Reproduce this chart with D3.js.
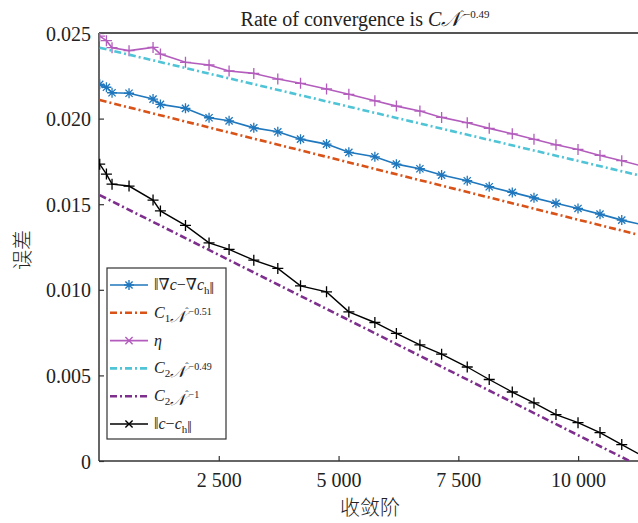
<!DOCTYPE html>
<html>
<head>
<meta charset="utf-8">
<script src="https://cdn.jsdelivr.net/npm/d3@7"></script>
<style>
  body { margin: 0; background: #fff; }
  svg { display: block; }
  text { font-family: "Liberation Serif", "DejaVu Serif", serif; fill: #222; }
</style>
</head>
<body>
<div id="chart"></div>
<script>
// Data
var orderN = [15, 155, 272, 627, 1128, 1282, 1805, 2297, 2715, 3231, 3732, 4206, 4749, 5215,
              5758, 6207, 6698, 7151, 7686, 8145, 8626, 9079, 9538, 9998, 10457, 10911, 11370];
var gradError = [0.02200, 0.02183, 0.02151, 0.02148, 0.02114, 0.02083, 0.02060, 0.02005, 0.01987,
                 0.01946, 0.01923, 0.01880, 0.01851, 0.01803, 0.01777, 0.01734, 0.01707, 0.01670,
                 0.01637, 0.01602, 0.01569, 0.01537, 0.01505, 0.01475, 0.01442, 0.01407, 0.01378];
var eta = [0.02482, 0.02455, 0.02414, 0.02397, 0.02416, 0.02377, 0.02329, 0.02313, 0.02278,
           0.02264, 0.02231, 0.02206, 0.02173, 0.02142, 0.02104, 0.02073, 0.02044, 0.02007,
           0.01976, 0.01943, 0.01911, 0.01879, 0.01847, 0.01820, 0.01785, 0.01754, 0.01720];
var cError = [0.01734, 0.01676, 0.01617, 0.01606, 0.01524, 0.01461, 0.01376, 0.01274, 0.01236,
              0.01173, 0.01125, 0.01023, 0.00988, 0.00871, 0.00809, 0.00745, 0.00678, 0.00624,
              0.00549, 0.00476, 0.00403, 0.00339, 0.00271, 0.00224, 0.00166, 0.00096, 0.00025];

// fitted reference lines (straight in the picture), endpoints only
var refN = [15, 11250];
var c1Fit = [0.02108, 0.01322];
var c2Fit = [0.02414, 0.01670];
var c2Inv = [0.01553, -0.00025];

var xTicks = [2500, 5000, 7500, 10000];
var xTickLabels = ["2 500", "5 000", "7 500", "10 000"];
var yTicks = [0, 0.005, 0.010, 0.015, 0.020, 0.025];
var yTickLabels = ["0", "0.005", "0.010", "0.015", "0.020", "0.025"];

var serif = "'Liberation Serif', 'DejaVu Serif', serif";
var W = 638, H = 523;
var plot = {left: 99, right: 638, top: 33, bottom: 461};

var x = d3.scaleLinear().domain([0, 11250]).range([plot.left, plot.right]);
var y = d3.scaleLinear().domain([0, 0.025]).range([plot.bottom, plot.top]);

var svg = d3.select("#chart").append("svg")
    .attr("width", W)
    .attr("height", H);

svg.append("clipPath").attr("id", "clip")
  .append("rect")
    .attr("x", plot.left).attr("y", plot.top)
    .attr("width", plot.right - plot.left)
    .attr("height", plot.bottom - plot.top);

// --------------------------------------------------
// Axes
// --------------------------------------------------
var xAxis = svg.append("g")
    .attr("transform", "translate(0," + plot.bottom + ")")
    .call(d3.axisTop(x).tickValues(xTicks).tickSize(5).tickPadding(0)
          .tickFormat(function(d, i) { return xTickLabels[i]; }));
xAxis.attr("font-family", null).attr("font-size", null);
xAxis.select(".domain").remove();
xAxis.selectAll("line").attr("stroke", "#333").attr("stroke-width", 1.2);
xAxis.selectAll("text")
    .attr("y", 26).attr("dy", 0)
    .attr("fill", "#222")
    .style("font-family", serif)
    .style("font-size", "20px");

var yAxis = svg.append("g")
    .attr("transform", "translate(" + plot.left + ",0)")
    .call(d3.axisRight(y).tickValues(yTicks).tickSize(5)
          .tickFormat(function(d, i) { return yTickLabels[i]; }));
yAxis.attr("font-family", null).attr("font-size", null);
yAxis.select(".domain").remove();
yAxis.selectAll("line").attr("stroke", "#333").attr("stroke-width", 1.2);
yAxis.selectAll("text")
    .attr("x", -8).attr("dy", "0.35em")
    .attr("fill", "#222")
    .style("text-anchor", "end")
    .style("font-family", serif)
    .style("font-size", "20px");

// frame lines
svg.append("line")
    .attr("x1", plot.left).attr("x2", plot.right)
    .attr("y1", plot.bottom).attr("y2", plot.bottom)
    .attr("stroke", "#333").attr("stroke-width", 1.5);
svg.append("line")
    .attr("x1", plot.left).attr("x2", plot.left)
    .attr("y1", plot.top).attr("y2", plot.bottom)
    .attr("stroke", "#333").attr("stroke-width", 1.5);
svg.append("line")
    .attr("x1", plot.left).attr("x2", plot.right)
    .attr("y1", plot.top).attr("y2", plot.top)
    .attr("stroke", "#555").attr("stroke-width", 2);

// --------------------------------------------------
// Series
// --------------------------------------------------
function markerPath(kind, s) {
    var d = "";
    if (kind === "plus" || kind === "star") {
        d += "M" + (-s) + ",0H" + s + "M0," + (-s) + "V" + s;
    }
    if (kind === "cross" || kind === "star") {
        var t = s * 0.72;
        d += "M" + (-t) + "," + (-t) + "L" + t + "," + t + "M" + (-t) + "," + t + "L" + t + "," + (-t);
    }
    return d;
}

var series = [
    {name: "grad", xs: orderN, ys: gradError, color: "#1f77bd", width: 1.6, marker: "star", legendMarker: "star", dash: null},
    {name: "c1", xs: refN, ys: c1Fit, color: "#d95319", width: 2.6, marker: null, dash: "7,3,2,3"},
    {name: "eta", xs: orderN, ys: eta, color: "#b35cbd", width: 1.6, marker: "plus", legendMarker: "cross", dash: null},
    {name: "c2", xs: refN, ys: c2Fit, color: "#4fc4d6", width: 2.6, marker: null, dash: "7,3,2,3"},
    {name: "c2inv", xs: refN, ys: c2Inv, color: "#7e2f8e", width: 2.6, marker: null, dash: "7,3,2,3"},
    {name: "c", xs: orderN, ys: cError, color: "#000000", width: 1.4, marker: "plus", legendMarker: "cross", dash: null}
];

var line = d3.line()
    .x(function(p) { return x(p[0]); })
    .y(function(p) { return y(p[1]); });

var plotArea = svg.append("g").attr("clip-path", "url(#clip)");

series.forEach(function(s) {
    var pts = s.xs.map(function(v, i) { return [v, s.ys[i]]; });
    plotArea.append("path")
        .datum(pts)
        .attr("d", line)
        .attr("fill", "none")
        .attr("stroke", s.color)
        .attr("stroke-width", s.width)
        .attr("stroke-dasharray", s.dash);
    if (s.marker) {
        plotArea.selectAll(".m-" + s.name)
            .data(pts)
            .enter().append("path")
            .attr("class", "m-" + s.name)
            .attr("transform", function(p) { return "translate(" + x(p[0]) + "," + y(p[1]) + ")"; })
            .attr("d", markerPath(s.marker, s.marker === "star" ? 5 : 5.5))
            .attr("stroke", s.color)
            .attr("stroke-width", 1.3)
            .attr("fill", "none");
    }
});

// --------------------------------------------------
// Title and axis labels
// --------------------------------------------------
var title = svg.append("text")
    .attr("x", 365).attr("y", 26)
    .style("text-anchor", "middle")
    .style("font-size", "20px");
title.append("tspan").text("Rate of convergence is ");
title.append("tspan").style("font-style", "italic").text("C\uD835\uDCA9");
title.append("tspan").attr("dy", -8).style("font-size", "11px").text("\u02C6\u22120.49");

svg.append("text")
    .attr("x", 370).attr("y", 515)
    .style("text-anchor", "middle")
    .style("font-family", "'Noto Sans CJK SC'")
    .style("font-size", "20px")
    .style("font-weight", 300)
    .text("收敛阶");

svg.append("text")
    .attr("transform", "translate(30,250) rotate(-90)")
    .style("text-anchor", "middle")
    .style("font-family", "'Noto Sans CJK SC'")
    .style("font-size", "20px")
    .style("font-weight", 300)
    .text("误差");

// --------------------------------------------------
// Legend
// --------------------------------------------------
var legendBox = {x: 107, y: 268, w: 119, h: 171};
svg.append("rect")
    .attr("x", legendBox.x).attr("y", legendBox.y)
    .attr("width", legendBox.w).attr("height", legendBox.h)
    .attr("fill", "#fff").attr("stroke", "#333").attr("stroke-width", 1.2);

var legend = svg.selectAll(".legend")
    .data(series)
    .enter().append("g")
    .attr("class", "legend")
    .attr("transform", function(s, i) { return "translate(0," + (285 + i * 27.8) + ")"; });

legend.append("line")
    .attr("x1", 110).attr("x2", 148)
    .attr("stroke", function(s) { return s.color; })
    .attr("stroke-width", function(s) { return s.marker ? 1.6 : 2.6; })
    .attr("stroke-dasharray", function(s) { return s.dash; });

legend.filter(function(s) { return s.legendMarker; })
    .append("path")
    .attr("transform", "translate(129,0)")
    .attr("d", function(s) { return markerPath(s.legendMarker, 5); })
    .attr("stroke", function(s) { return s.color; })
    .attr("stroke-width", 1.4)
    .attr("fill", "none");

function legendLabel(g, name) {
    var t = g.append("text").attr("x", 154).attr("y", 5).style("font-size", "16px");
    function it(str) { return t.append("tspan").style("font-style", "italic").text(str); }
    function sub(str) { t.append("tspan").attr("dy", 4).style("font-size", "11px").text(str); t.append("tspan").attr("dy", -4).text(""); }
    function sup(str) { t.append("tspan").attr("dy", -7).style("font-size", "10px").text(str); t.append("tspan").attr("dy", 7).text(""); }
    if (name === "grad") {
        t.append("tspan").text("\u2016\u2207");
        it("c");
        t.append("tspan").text("\u2212\u2207");
        it("c");
        sub("h");
        t.append("tspan").text("\u2016");
    } else if (name === "c1") {
        it("C"); sub("1"); it("\uD835\uDCA9"); sup("\u02C6\u22120.51");
    } else if (name === "eta") {
        it("\u03B7");
    } else if (name === "c2") {
        it("C"); sub("2"); it("\uD835\uDCA9"); sup("\u02C6\u22120.49");
    } else if (name === "c2inv") {
        it("C"); sub("2"); it("\uD835\uDCA9"); sup("\u02C6\u22121");
    } else {
        t.append("tspan").text("\u2016");
        it("c");
        t.append("tspan").text("\u2212");
        it("c");
        sub("h");
        t.append("tspan").text("\u2016");
    }
}

legend.each(function(s) { legendLabel(d3.select(this), s.name); });
</script>
</body>
</html>
